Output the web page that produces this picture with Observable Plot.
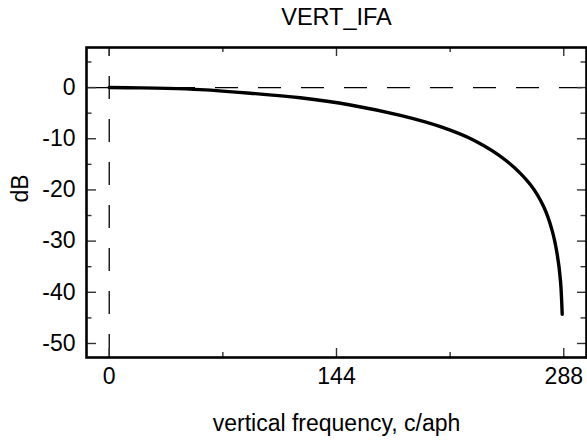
<!DOCTYPE html>
<html>
<head>
<meta charset="utf-8">
<script src="https://cdn.jsdelivr.net/npm/d3@7"></script>
<script src="https://cdn.jsdelivr.net/npm/@observablehq/plot@0.6"></script>
<style>
  html, body { margin: 0; padding: 0; background: #fff; }
  #chart svg { display: block; }
</style>
</head>
<body>
<div id="chart"></div>
<script>
// ---- data ----
const freq = [0, 20, 36.6, 57.7, 89.4, 121, 152.8, 184.5, 209.8, 231, 252, 266.9, 275.3, 280.6, 283.8, 285.9, 287];
const dB   = [0, -0.05, -0.15, -0.4, -1.1, -2.0, -3.4, -5.45, -7.65, -10.3, -14.4, -19.0, -23.3, -27.9, -32.5, -37.7, -44.3];
const xTicks = [0, 144, 288];
const xMinor = [72, 216];
const yTicks = [0, -10, -20, -30, -40, -50];
const yMinor = [5, -5, -15, -25, -35, -45];
const xDomain = [-14.4, 302.4];
const yDomain = [-52.74, 7.83];
const title = "VERT_IFA";
const xLabel = "vertical frequency, c/aph";
const yLabel = "dB";

const data = freq.map((f, i) => ({f, v: dB[i]}));

const W = 587, H = 445;
const mL = 86, mR = 1, mT = 47, mB = 88;
const fw = W - mL - mR, fh = H - mT - mB;
const fs = 23;
const tickCol = "#333";

const chart = Plot.plot({
  width: W, height: H,
  marginLeft: mL, marginRight: mR, marginTop: mT, marginBottom: mB,
  style: {fontFamily: "'Liberation Sans', Arial, sans-serif", fontSize: fs + "px", color: "#000", background: "#fff"},
  x: {domain: xDomain},
  y: {domain: yDomain},
  marks: [
    // dashed reference lines
    Plot.ruleY([0], {stroke: "#000", strokeWidth: 1.3, strokeDasharray: "23,20"}),
    Plot.ruleX([0], {y1: yDomain[0], y2: yDomain[1], stroke: "#000", strokeWidth: 1.3, strokeDasharray: "23,20"}),
    // inward ticks: bottom
    Plot.tickX(xTicks, {x: d => d, insetTop: fh - 9, stroke: tickCol, strokeWidth: 1.4}),
    Plot.tickX(xMinor, {x: d => d, insetTop: fh - 5, stroke: tickCol, strokeWidth: 1.4}),
    // top
    Plot.tickX(xTicks, {x: d => d, insetBottom: fh - 9, stroke: tickCol, strokeWidth: 1.4}),
    Plot.tickX(xMinor, {x: d => d, insetBottom: fh - 5, stroke: tickCol, strokeWidth: 1.4}),
    // left
    Plot.tickY(yTicks, {y: d => d, insetRight: fw - 10, stroke: tickCol, strokeWidth: 1.4}),
    Plot.tickY(yMinor, {y: d => d, insetRight: fw - 5.5, stroke: tickCol, strokeWidth: 1.4}),
    // right
    Plot.tickY(yTicks, {y: d => d, insetLeft: fw - 9, stroke: tickCol, strokeWidth: 1.4}),
    Plot.tickY(yMinor, {y: d => d, insetLeft: fw - 5.5, stroke: tickCol, strokeWidth: 1.4}),
    // tick labels
    Plot.axisX({ticks: xTicks, tickSize: 0, tickPadding: 10, tickFormat: d => String(d), label: null, fontSize: fs}),
    Plot.axisY({ticks: yTicks, tickSize: 0, tickPadding: 11, tickFormat: d => String(d), label: null, fontSize: fs}),
    // curve
    Plot.line(data, {x: "f", y: "v", stroke: "#000", strokeWidth: 3.4, curve: "catmull-rom"}),
    // frame
    Plot.frame({stroke: "#000", strokeWidth: 2.6}),
    // titles
    Plot.text([title], {frameAnchor: "top", dy: -30, lineAnchor: "middle", fontSize: 23.5, fill: "#000"}),
    Plot.text([xLabel], {frameAnchor: "bottom", dy: 66, lineAnchor: "middle", fontSize: fs, fill: "#000"}),
    Plot.text([yLabel], {frameAnchor: "left", dx: -65.5, rotate: -90, lineAnchor: "middle", fontSize: fs, fill: "#000"})
  ]
});
document.getElementById("chart").appendChild(chart);
</script>
</body>
</html>
